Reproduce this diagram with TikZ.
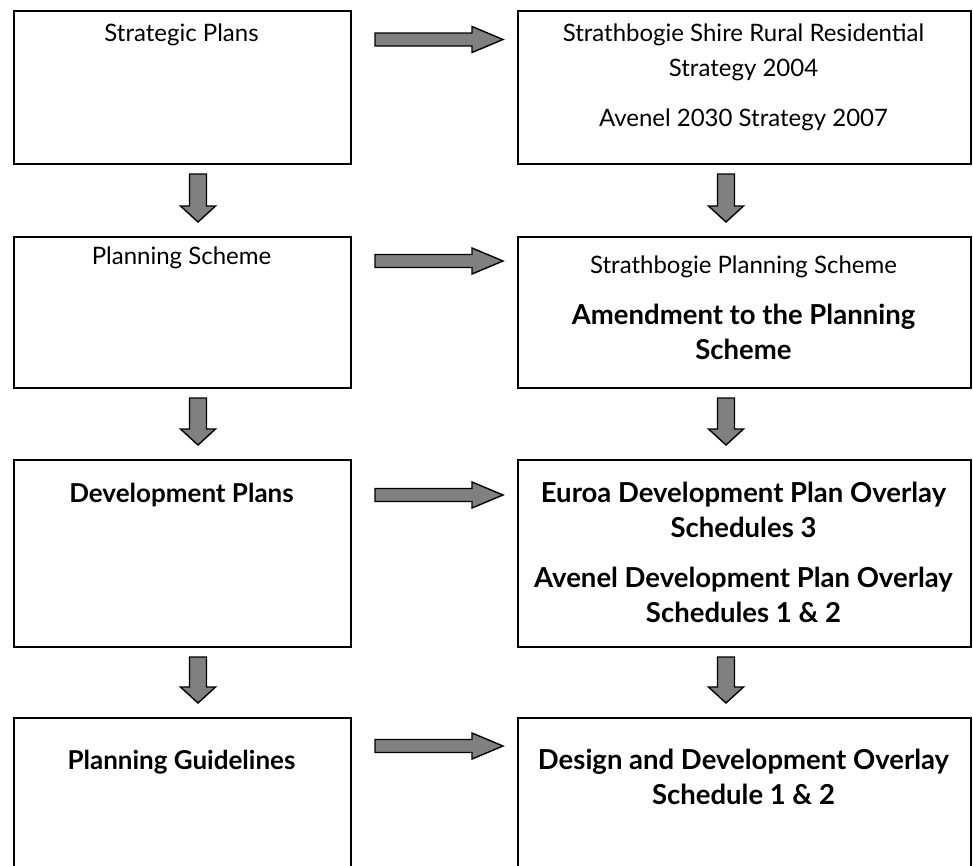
\documentclass[tikz,border=0pt]{standalone}
\usepackage{fontspec}
\setmainfont{Lato}
\usetikzlibrary{calc}
\tikzset{
  boxnode/.style={draw=black, line width=2pt, rectangle, inner sep=0pt, anchor=north west},
  txt/.style={anchor=north, align=center, inner sep=0pt, font=\fontsize{24}{35}\selectfont},
  btxt/.style={txt, font=\fontsize{26}{35}\selectfont\bfseries},
  rbtxt/.style={txt, font=\fontsize{27.5}{35}\selectfont\bfseries},
  blk/.style={draw=black, fill=black!50, line width=1.4pt, line join=miter}
}
\newcommand\hblock[3]{%
  \draw[blk] let \p1=#1, \p2=#2 in
    (\x1+23pt,-#3pt+6.5pt) -- (\x2-45pt,-#3pt+6.5pt) -- (\x2-45pt,-#3pt+13pt) --
    (\x2-14pt,-#3pt) -- (\x2-45pt,-#3pt-13pt) -- (\x2-45pt,-#3pt-6.5pt) --
    (\x1+23pt,-#3pt-6.5pt) -- cycle;}
\newcommand\vblock[3]{%
  \draw[blk] let \p1=#1, \p2=#2 in
    (#3pt-8.5pt,\y1-9pt) -- (#3pt+8.5pt,\y1-9pt) -- (#3pt+8.5pt,\y2+30pt) --
    (#3pt+17.5pt,\y2+30pt) -- (#3pt,\y2+14pt) -- (#3pt-17.5pt,\y2+30pt) --
    (#3pt-8.5pt,\y2+30pt) -- cycle;}
\begin{document}
\begin{tikzpicture}[x=1pt,y=-1pt]
\useasboundingbox (0,0) rectangle (973,865);
\fill[white] (0,0) rectangle (973,865);
% boxes
\node[boxnode, minimum width=337pt, minimum height=153pt] (l1) at (13,10) {};
\node[boxnode, minimum width=453pt, minimum height=153pt] (r1) at (517,10) {};
\node[boxnode, minimum width=337pt, minimum height=151pt] (l2) at (13,236) {};
\node[boxnode, minimum width=453pt, minimum height=151pt] (r2) at (517,236) {};
\node[boxnode, minimum width=337pt, minimum height=187pt] (l3) at (13,459) {};
\node[boxnode, minimum width=453pt, minimum height=187pt] (r3) at (517,459) {};
\node[boxnode, minimum width=337pt, minimum height=200pt] (l4) at (13,717) {};
\node[boxnode, minimum width=453pt, minimum height=200pt] (r4) at (517,717) {};
% texts
\node[txt] (tl1) at (181.5,24) {Strategic Plans};
\node[txt] (tr1) at (743.5,24) {Strathbogie Shire Rural Residential\\Strategy 2004\\[15pt]Avenel 2030 Strategy 2007};
\node[txt] (tl2) at (181.5,247) {Planning Scheme};
\node[txt] (tr2) at (743.5,256) {Strathbogie Planning Scheme\\[16pt]{\fontsize{27.5}{35}\selectfont\bfseries Amendment to the Planning}\\{\fontsize{27.5}{35}\selectfont\bfseries Scheme}};
\node[btxt] (tl3) at (181.5,483) {Development Plans};
\node[rbtxt] (tr3) at (743.5,482) {Euroa Development Plan Overlay\\Schedules 3\\[15pt]Avenel Development Plan Overlay\\Schedules 1 \& 2};
\node[btxt] (tl4) at (181.5,750) {Planning Guidelines};
\node[rbtxt] (tr4) at (743.5,749) {Design and Development Overlay\\Schedule 1 \& 2};
% horizontal block arrows
\hblock{(l1.east)}{(r1.west)}{39.5}
\hblock{(l2.east)}{(r2.west)}{261}
\hblock{(l3.east)}{(r3.west)}{495}
\hblock{(l4.east)}{(r4.west)}{746}
% vertical block arrows
\vblock{(l1.south)}{(l2.north)}{198}
\vblock{(r1.south)}{(r2.north)}{726}
\vblock{(l2.south)}{(l3.north)}{198}
\vblock{(r2.south)}{(r3.north)}{726}
\vblock{(l3.south)}{(l4.north)}{198}
\vblock{(r3.south)}{(r4.north)}{726}
\end{tikzpicture}
\end{document}
